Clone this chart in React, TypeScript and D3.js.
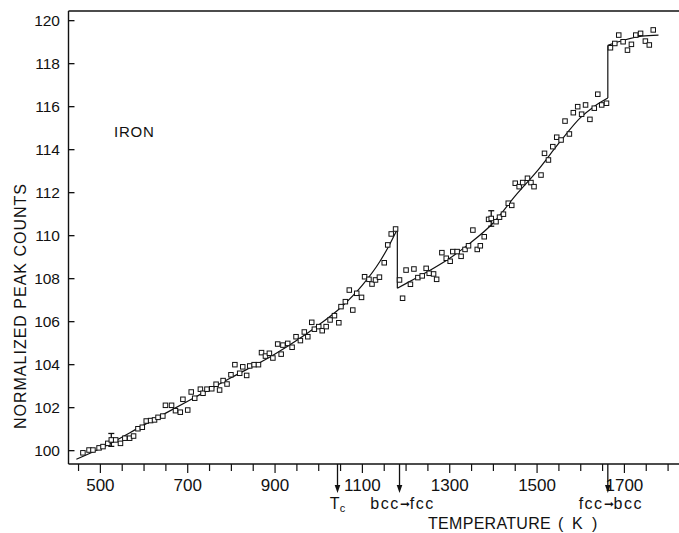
import * as d3 from 'd3';

// measured points (temperature K, normalized peak counts)
const temps = [
  460, 474, 483, 497, 506, 517, 525, 535, 546, 556, 567, 576, 586, 596, 605, 615, 624, 632, 643, 649,
  663, 672, 683, 689, 700, 708, 716, 729, 735, 744, 755, 765, 773, 781, 790, 799, 808, 819, 826, 835,
  842, 852, 862, 869, 878, 887, 895, 906, 914, 918, 929, 939, 948, 958, 967, 975, 984, 990, 1000, 1008,
  1017, 1026, 1036, 1046, 1051, 1061, 1070, 1078, 1087, 1098, 1105, 1115, 1122, 1130, 1139, 1150, 1158, 1166, 1176,
  1185, 1192, 1200, 1210, 1218, 1227, 1237, 1246, 1253, 1263, 1270, 1282, 1292, 1301, 1307, 1317, 1326, 1335,
  1343, 1353, 1363, 1370, 1379, 1389, 1395, 1406, 1414, 1423, 1434, 1442, 1450, 1459, 1467, 1478, 1486, 1493,
  1509, 1517, 1526, 1536, 1545, 1555, 1564, 1574, 1583, 1593, 1602, 1611, 1621, 1631, 1639, 1648, 1659,
  1668, 1678, 1687, 1697, 1707, 1716, 1726, 1737, 1748, 1757, 1766,
];
const counts = [
  99.9, 100.03, 100.03, 100.13, 100.19, 100.34, 100.5, 100.5, 100.34, 100.58, 100.58, 100.68, 101.02, 101.09, 101.38, 101.4, 101.43, 101.55, 101.61, 102.11,
  102.11, 101.86, 101.79, 102.39, 101.89, 102.73, 102.44, 102.86, 102.67, 102.86, 102.88, 103.09, 102.82, 103.26, 103.1, 103.53, 104.0, 103.6, 103.9, 103.5,
  103.94, 104.0, 104.0, 104.56, 104.4, 104.53, 104.31, 104.96, 104.49, 104.91, 104.99, 104.81, 105.3, 105.12, 105.52, 105.3, 105.97, 105.65, 105.77, 105.58,
  105.77, 106.08, 106.28, 105.95, 106.7, 106.93, 107.47, 106.54, 107.32, 107.13, 108.09, 107.97, 107.75, 107.94, 108.07, 108.74, 109.57, 110.08, 110.31,
  107.94, 107.09, 108.4, 107.74, 108.45, 108.05, 108.13, 108.48, 108.25, 108.22, 107.97, 109.21, 108.95, 108.81, 109.26, 109.26, 109.04, 109.36,
  109.53, 110.26, 109.36, 109.53, 109.95, 110.76, 110.8, 110.65, 110.86, 111.0, 111.51, 111.41, 112.44, 112.28, 112.47, 112.67, 112.47, 112.28,
  112.82, 113.83, 113.52, 114.14, 114.58, 114.45, 115.33, 114.73, 115.72, 116.0, 115.65, 116.08, 115.41, 115.93, 116.58, 116.08, 116.16,
  118.74, 118.94, 119.33, 119.02, 118.63, 118.9, 119.33, 119.41, 119.05, 118.87, 119.57,
];

// error bars
const errT = [525, 1395];
const errV = [100.5, 110.8];
const errD = [0.3, 0.36];

// fitted curve, three phases
const fitBccT = [445, 500, 600, 700, 800, 900, 1000, 1050, 1100, 1140, 1160, 1180];
const fitBccV = [99.6, 100.1, 101.2, 102.3, 103.4, 104.5, 105.85, 106.65, 107.7, 108.8, 109.5, 110.3];
const fitFccT = [1180, 1220, 1260, 1300, 1340, 1400, 1450, 1500, 1550, 1600, 1630, 1662];
const fitFccV = [107.55, 108.0, 108.45, 108.95, 109.55, 110.6, 111.85, 113.0, 114.3, 115.5, 116.0, 116.4];
const fitDeltaT = [1662, 1700, 1740, 1778];
const fitDeltaV = [118.85, 119.1, 119.28, 119.33];

const yTicks = [100, 102, 104, 106, 108, 110, 112, 114, 116, 118, 120];
const xLabels = [500, 700, 900, 1100, 1300, 1500, 1700];
const xTicks = d3.range(450, 1801, 50);

// transitions marked under the axis
const markT = [1043, 1185, 1662];
const markFrom = ['', 'bcc', 'fcc'];
const markTo = ['', 'fcc', 'bcc'];

const font = "'Liberation Sans', Arial, sans-serif";

export default function App() {
  const x = d3.scaleLinear().domain([427, 1825]).range([68.5, 679]);
  const y = d3.scaleLinear().domain([99.38, 120.45]).range([464, 11]);
  const [x0, x1] = x.range();
  const [yBot, yTop] = y.range();

  const curve = d3.line<[number, number]>()
    .x((d) => x(d[0]))
    .y((d) => y(d[1]))
    .curve(d3.curveMonotoneX);
  const straight = d3.line<[number, number]>().x((d) => x(d[0])).y((d) => y(d[1]));

  const segs = [
    fitBccT.map((t, i) => [t, fitBccV[i]] as [number, number]),
    fitFccT.map((t, i) => [t, fitFccV[i]] as [number, number]),
    fitDeltaT.map((t, i) => [t, fitDeltaV[i]] as [number, number]),
  ];
  const jumps = [
    [segs[0][segs[0].length - 1], segs[1][0]],
    [segs[1][segs[1].length - 1], segs[2][0]],
  ];

  const sq = 4.5;

  return (
    <svg width={679} height={533} style={{ position: 'absolute', left: 0, top: 0, background: '#fff' }}>
      {/* frame */}
      <line x1={x0} x2={x0} y1={yTop} y2={yBot} stroke="#111" strokeWidth={1.4} />
      <line x1={x0} x2={x1} y1={yBot} y2={yBot} stroke="#111" strokeWidth={1.4} />
      <line x1={x0} x2={x1} y1={yTop} y2={yTop} stroke="#111" strokeWidth={1.3} />

      {yTicks.map((v) => (
        <g key={v}>
          <line x1={x0} x2={x0 + 6} y1={y(v)} y2={y(v)} stroke="#111" strokeWidth={1.3} />
          <text x={60} y={y(v)} dy="0.36em" textAnchor="end" fontFamily={font} fontSize={15.5} fill="#111">
            {v}
          </text>
        </g>
      ))}

      {xTicks.map((t) => (
        <line key={t} x1={x(t)} x2={x(t)} y1={yBot} y2={yBot + (t % 200 === 100 ? 9 : 7)} stroke="#111" strokeWidth={1.2} />
      ))}
      {xLabels.map((t) => (
        <text key={t} x={x(t)} y={491} textAnchor="middle" fontFamily={font} fontSize={17} fill="#111">
          {t}
        </text>
      ))}

      {/* transition arrows */}
      {markT.map((t, i) => (
        <g key={t}>
          <line x1={x(t)} x2={x(t)} y1={yBot} y2={486} stroke="#111" strokeWidth={1.3} />
          <path d={`M${x(t) - 2.8},${485} L${x(t) + 2.8},${485} L${x(t)},${493} Z`} fill="#111" />
          {i === 0 ? (
            <text x={x(t)} y={509} textAnchor="middle" fontFamily={font} fontSize={16} fill="#111">
              T<tspan fontSize={11} dy={3}>c</tspan>
            </text>
          ) : (
            <text x={x(t) + 3} y={509} textAnchor="middle" fontFamily={font} fontSize={16} fill="#111">
              <tspan letterSpacing={1.5}>{markFrom[i]}</tspan>
              <tspan fontSize={12} dy={-1}>➞</tspan>
              <tspan dy={1} letterSpacing={1.5}>{markTo[i]}</tspan>
            </text>
          )}
        </g>
      ))}

      {/* fit */}
      {segs.map((s, i) => (
        <path key={i} d={curve(s) ?? ''} fill="none" stroke="#111" strokeWidth={1.2} />
      ))}
      {jumps.map((s, i) => (
        <path key={i} d={straight(s as [number, number][]) ?? ''} fill="none" stroke="#111" strokeWidth={1.2} />
      ))}

      {/* error bars */}
      {errT.map((t, i) => (
        <g key={t} stroke="#111" strokeWidth={1.3}>
          <line x1={x(t)} x2={x(t)} y1={y(errV[i] - errD[i])} y2={y(errV[i] + errD[i])} />
          <line x1={x(t) - 3} x2={x(t) + 3} y1={y(errV[i] - errD[i])} y2={y(errV[i] - errD[i])} />
          <line x1={x(t) - 3} x2={x(t) + 3} y1={y(errV[i] + errD[i])} y2={y(errV[i] + errD[i])} />
        </g>
      ))}

      {/* points */}
      {temps.map((t, i) => (
        <rect
          key={i}
          x={x(t) - sq / 2}
          y={y(counts[i]) - sq / 2}
          width={sq}
          height={sq}
          fill="#fff"
          stroke="#111"
          strokeWidth={1}
        />
      ))}

      <text x={114} y={137} fontFamily={font} fontSize={15} letterSpacing={0.8} fill="#111">IRON</text>

      <text
        transform={`translate(26,306) rotate(-90)`}
        textAnchor="middle"
        fontFamily={font}
        fontSize={16}
        letterSpacing={1}
        fill="#111"
      >
        NORMALIZED PEAK COUNTS
      </text>

      <text x={428} y={529} fontFamily={font} fontSize={16} letterSpacing={0.3} fill="#111">TEMPERATURE</text>
      <text x={558} y={529} fontFamily={font} fontSize={16} fill="#111">(</text>
      <text x={572} y={529} fontFamily={font} fontSize={16} fill="#111">K</text>
      <text x={592} y={529} fontFamily={font} fontSize={16} fill="#111">)</text>
    </svg>
  );
}
